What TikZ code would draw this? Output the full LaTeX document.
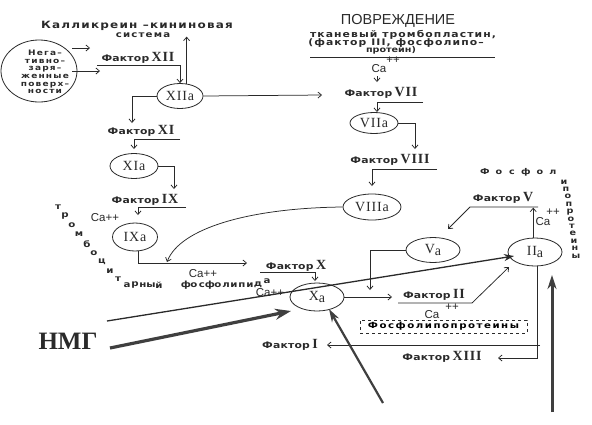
\documentclass[tikz,border=0pt]{standalone}
\usepackage{fontspec}
\setmainfont{Liberation Serif}
\newfontfamily\dmf{DejaVu Sans Bold}[FakeStretch=1.2]
\newfontfamily\rmb{Liberation Serif Bold}
\newfontfamily\rmr{Liberation Serif}
\newfontfamily\sff{Liberation Sans}
\usetikzlibrary{arrows.meta,shapes.geometric}
\definecolor{ink}{HTML}{2A2A2A}
\newcommand\dm[3]{{\dmf\fontsize{#1}{#1}\selectfont\addfontfeature{LetterSpace=#2}#3}}
\newcommand\rn[1]{{\rmb\fontsize{14}{14}\selectfont\addfontfeature{LetterSpace=6}#1}}
\newcommand\fkt[1]{\dm{9}{2}{Фактор}~\rn{#1}}
\newcommand\lowa[1]{\raisebox{-2.5pt}{#1}}
\newcommand\cas[1]{{\sff\fontsize{11.5}{11.5}\selectfont #1}}
\newcommand\ellfont{\rmr\fontsize{14}{14}\selectfont\addfontfeature{LetterSpace=6}}
\tikzset{
 lbl/.style={inner sep=0pt, text=ink},
 ell/.style={draw=ink, ellipse, inner sep=0pt, line width=0.8pt, font=\ellfont, text=ink},
 con/.style={draw=ink, line width=0.75pt, -{Straight Barb[length=3.5pt,width=6pt]}},
 ln/.style={draw=ink, line width=0.75pt},
 big/.style={draw=ink!90, line width=3.2pt, -{Stealth[length=16pt,width=11pt]}},
}
\begin{document}
\begin{tikzpicture}[x=1pt,y=-1pt]
\useasboundingbox[fill=white] (0,0) rectangle (592,424);

% top left
\node[lbl] (kal1) at (137,26) {\dm{10}{12}{Калликреин –кининовая}};
\node[lbl] (kal2) at (143,35) {\dm{8.5}{14}{система}};
\node[ell, minimum width=76pt, minimum height=62pt] (neg) at (39,71) {};
\node[lbl, align=center, font=\dmf\fontsize{7.5}{7.6}\selectfont\addfontfeature{LetterSpace=16}] (negt) at (45,72) {Нега–\\тивно–\\заря–\\женные\\поверх–\\ности};
\coordinate (n1s) at (72,48); \coordinate (n1e) at (90,48);
\coordinate (n2s) at (72,71); \coordinate (n2e) at (100,71);
\draw[con] (n1s) -- (n1e);
\draw[con] (n2s) -- (n2e);

\node[lbl] (f12) at (138,58) {\fkt{XII}};
\node[ell, minimum width=46pt, minimum height=25pt] (xiia) at (180,96) {XIIa};
\draw[con] (97,65) -| (xiia.north);
\draw[con] (xiia.62) -- ++(0,-47);

\node[lbl] (f11) at (141,131) {\fkt{XI}};
\draw[con] (xiia.west) -| (132,123);
\draw[con] (180,139) -| (134,149);
\node[ell, minimum width=48pt, minimum height=25pt] (xia) at (134,166) {XIa};
\draw[con] (xia.east) -| (174,189);

\node[lbl] (f9) at (145,200) {\fkt{IX}};
\draw[con] (186,207) -| (138,215);
\node[lbl] (ca1) at (105,218) {\cas{Ca++}};
\node[ell, minimum width=45pt, minimum height=28pt] (ixa) at (135,237) {IXa};
\coordinate (c10) at (247,263);
\draw[con] (ixa.-78) |- (c10);
\node[lbl] (ca2) at (203,274) {\cas{Ca++}};

% tromb letters
\foreach \c/\x/\y [count=\i] in {т/58/207, р/65/216, о/72/225, м/79/234, б/87/244, о/94/253, ц/102/262, и/110/271, т/118/279,
  а/127/285, р/135/285, н/143/285, ы/151/285, й/159/285,
  ф/186/285, о/194/285, с/202/285, ф/210/285, о/218/285, л/226/285, и/234/285, п/242/285, и/250/285, д/258/285, а/267/281}
  \node[lbl] (tr\i) at (\x,\y) {\dm{8.5}{0}{\c}};

% top right
\node[lbl] (pov) at (398,21) {\sff\fontsize{14.5}{15}\selectfont ПОВРЕЖДЕНИЕ};
\node[lbl] (pv1) at (403,35) {\dm{9}{12}{тканевый тромбопластин,}};
\node[lbl] (pv2) at (396,43) {\dm{9}{12}{(фактор III, фосфолипо–}};
\node[lbl] (pv3) at (391,50.5) {\dm{8}{0}{протеин)}};
\coordinate (lA) at (310,57); \coordinate (lB) at (495,57);
\draw[ln] (lA) -- (lB);
\node[lbl] (cat) at (379,69) {\cas{Ca}};
\node[lbl] (cap) at (393,60) {\cas{++}};
\draw[con] (377,76) -- (377,82);

\node[lbl] (f7) at (381,93) {\fkt{VII}};
\draw[con] (xiia.east) -- (322,95);
\draw[con] (423,102) -| (377,112);
\node[ell, minimum width=48pt, minimum height=21pt] (viia) at (374,123) {VIIa};
\draw[con] (viia.east) -| (415,149);

\node[lbl] (f8) at (390,160) {\fkt{VIII}};
\draw[con] (437,169) -| (372,186);
\node[ell, minimum width=58pt, minimum height=26pt] (viiia) at (372,207) {VIIIa};
\draw[con] (viiia.west) .. controls (250,208) and (180,228) .. (167,262);

% X
\node[lbl] (f10) at (296,266) {\fkt{X}};
\draw[con] (260,272) -| (315,281);
\node[ell, minimum width=54pt, minimum height=28pt] (xa) at (317,297) {X\lowa{a}};
\node[lbl] (ca3) at (270,293) {\cas{Ca++}};
\draw[con] (xa.east) -- (392,297);

% II
\node[lbl] (f2) at (434,295) {\fkt{II}};
\node[lbl] (ca4) at (432,315) {\cas{Ca}};
\node[lbl] (ca4p) at (452,307) {\cas{++}};
\node[ell, minimum width=54pt, minimum height=28pt] (iia) at (535,252) {II\lowa{a}};
\draw[con] (398,303) -- (472,303) -- (509,267);
\node[draw=ink, dashed, line width=0.75pt, minimum width=167pt, minimum height=13pt, inner sep=0pt] (box) at (443.5,326.5) {\dm{8.5}{18}{Фосфолипопротеины}};

% V
\node[ell, minimum width=54pt, minimum height=25pt] (va) at (433,250) {V\lowa{a}};
\draw[con] (va.west) -| (370,290);
\node[lbl] (f5) at (503,198) {\fkt{V}};
\draw[con] (iia.97) -- ++(0,-30);
\draw[con] (538,207) -- (470,207) -- (448,229);
\node[lbl] (ca5) at (543,222) {\cas{Ca}};
\node[lbl] (ca5p) at (553,212) {\cas{++}};
\foreach \c/\x/\y [count=\i] in {Ф/485/172, о/499/172, с/512/172, ф/526/172, о/540/172, л/553/172,
  и/564/182, п/566/189.4, о/568/196.8, п/569/204.2, р/570/211.6, о/571/219, т/572/226.4, е/573/233.8, и/574/241.2, н/575/248.6, ы/576/256}
  \node[lbl] (fp\i) at (\x,\y) {\dm{8}{0}{\c}};

% feedback
\node[lbl] (f1) at (290,345) {\fkt{I}};
\node[lbl] (f13) at (442,357) {\fkt{XIII}};
\draw[con] (iia.-80) |- (498,358);
\draw[con] (540,345) -- (327,345);

% big arrows
\node[lbl] (nmg) at (68,341) {\bfseries\fontsize{25}{25}\selectfont НМГ};
\coordinate (t1) at (107,321); \coordinate (t2) at (514,256);
\draw[draw=ink, line width=1.3pt, -{Stealth[length=10pt,width=7pt]}] (t1) -- (t2);
\coordinate (h1) at (110,348); \coordinate (h2) at (291,311);
\draw[big] (h1) -- (h2);
\coordinate (b1) at (383,403); \coordinate (b2) at (329,309);
\draw[draw=ink!90, line width=2.2pt, -{Stealth[length=13pt,width=8pt]}] (b1) -- (b2);
\coordinate (r1) at (552,412); \coordinate (r2) at (552,275);
\draw[draw=ink!90, line width=3pt, -{Stealth[length=14pt,width=9pt]}] (r1) -- (r2);
\end{tikzpicture}
\end{document}
